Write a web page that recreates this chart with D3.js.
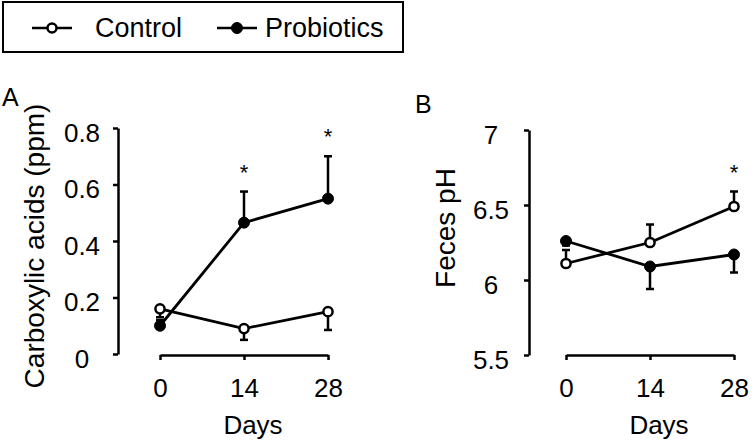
<!DOCTYPE html>
<html>
<head>
<meta charset="utf-8">
<script src="https://cdn.jsdelivr.net/npm/d3@7"></script>
<style>
  html, body { margin: 0; padding: 0; background: #fff; }
  svg { display: block; font-family: "Liberation Sans", Arial, Helvetica, sans-serif; }
</style>
</head>
<body>
<svg id="chart" width="756" height="441"></svg>
<script>
// ---- Data ----
const days = [0, 14, 28];
const seriesNames = ["Control", "Probiotics"];

// Panel A: Carboxylic acids (ppm)
const acidControl = [0.16, 0.09, 0.15];
const acidControlErr = [0.03, 0.04, 0.065];     // drawn downward
const acidProbiotics = [0.10, 0.465, 0.55];
const acidProbioticsErr = [0.02, 0.11, 0.15];   // drawn upward
const acidTicks = [0, 0.2, 0.4, 0.6, 0.8];
const acidStars = [14, 28];

// Panel B: Feces pH
const phControl = [6.11, 6.25, 6.49];
const phControlErr = [0.09, 0.12, 0.10];        // drawn upward
const phProbiotics = [6.26, 6.09, 6.17];
const phProbioticsErr = [0.03, 0.15, 0.12];     // drawn downward
const phTicks = [5.5, 6, 6.5, 7];
const phStars = [28];

const svg = d3.select("#chart");
const FONT = 26;

// ---- Legend ----
const leg = svg.append("g");
leg.append("rect").attr("x", 3).attr("y", 2).attr("width", 400).attr("height", 50)
  .attr("fill", "none").attr("stroke", "#000").attr("stroke-width", 2);
const legItems = [
  {name: seriesNames[0], x0: 32, x1: 72, tx: 95, filled: false},
  {name: seriesNames[1], x0: 217, x1: 257, tx: 265, filled: true}
];
legItems.forEach(d => {
  leg.append("line").attr("x1", d.x0).attr("x2", d.x1).attr("y1", 28).attr("y2", 28)
    .attr("stroke", "#000").attr("stroke-width", 2.5);
  leg.append("circle").attr("cx", (d.x0 + d.x1) / 2).attr("cy", 28)
    .attr("r", d.filled ? 5.5 : 4.5)
    .attr("fill", d.filled ? "#000" : "#fff").attr("stroke", "#000").attr("stroke-width", d.filled ? 1 : 2.5);
  leg.append("text").attr("x", d.tx).attr("y", 37).attr("font-size", 27).text(d.name);
});

// ---- Panel drawing ----
function drawPanel(cfg) {
  const g = svg.append("g");
  const x = d3.scaleLinear().domain([0, 28]).range([cfg.xLeft, cfg.xRight]);
  const y = d3.scaleLinear().domain(cfg.yDomain).range([cfg.yBottom, cfg.yTop]);

  // y axis
  const ya = g.append("g").attr("transform", `translate(${cfg.yAxisX},0)`)
    .call(d3.axisLeft(y).tickValues(cfg.yTicks).tickSize(5).tickSizeOuter(0)
      .tickFormat(d => String(d)));
  ya.select(".domain").attr("stroke-width", 2.5);
  ya.selectAll(".tick line").attr("stroke-width", 2.5);
  ya.selectAll(".tick text").attr("font-size", FONT).attr("font-family", null)
    .attr("text-anchor", "middle").attr("x", -cfg.yLabelOffset).attr("y", 5).attr("dy", "0.32em")
    .attr("fill", "#000");

  // x axis
  const xa = g.append("g").attr("transform", `translate(0,${cfg.xAxisY})`)
    .call(d3.axisBottom(x).tickValues(days).tickSize(5).tickSizeOuter(0));
  xa.select(".domain").attr("stroke-width", 2.5);
  xa.selectAll(".tick line").attr("stroke-width", 2.5);
  xa.selectAll(".tick text").attr("font-size", FONT).attr("font-family", null)
    .attr("y", 42).attr("dy", null).attr("fill", "#000");
  g.selectAll(".domain, .tick line").attr("stroke", "#000");

  // axis titles
  g.append("text").attr("x", (cfg.xLeft + cfg.xRight) / 2 + 9).attr("y", 434)
    .attr("text-anchor", "middle").attr("font-size", FONT).text("Days");
  g.append("text")
    .attr("transform", `translate(${cfg.yTitleX},${cfg.yTitleY}) rotate(-90)`)
    .attr("text-anchor", "middle").attr("font-size", 28).text(cfg.yTitle);
  g.append("text").attr("x", cfg.letterX).attr("y", cfg.letterY)
    .attr("font-size", 25).text(cfg.letter);

  const line = d3.line().x((d, i) => x(days[i])).y(d => y(d));
  const capW = 4;

  function series(vals, errs, dir, filled) {
    // error bars
    vals.forEach((v, i) => {
      const e = v + dir * errs[i];
      g.append("line").attr("x1", x(days[i])).attr("x2", x(days[i]))
        .attr("y1", y(v)).attr("y2", y(e)).attr("stroke", "#000").attr("stroke-width", 2.5);
      g.append("line").attr("x1", x(days[i]) - capW).attr("x2", x(days[i]) + capW)
        .attr("y1", y(e)).attr("y2", y(e)).attr("stroke", "#000").attr("stroke-width", 2.5);
    });
    g.append("path").datum(vals).attr("d", line).attr("fill", "none")
      .attr("stroke", "#000").attr("stroke-width", 2.8);
    g.selectAll(null).data(vals).enter().append("circle")
      .attr("cx", (d, i) => x(days[i])).attr("cy", d => y(d))
      .attr("r", filled ? 5.5 : 4.6)
      .attr("fill", filled ? "#000" : "#fff").attr("stroke", "#000")
      .attr("stroke-width", filled ? 1 : 2.5);
  }
  series(cfg.ctrl, cfg.ctrlErr, cfg.ctrlDir, false);
  series(cfg.prob, cfg.probErr, cfg.probDir, true);

  // significance stars
  cfg.stars.forEach(s => {
    const i = days.indexOf(s);
    const top = Math.max(cfg.ctrl[i] + (cfg.ctrlDir > 0 ? cfg.ctrlErr[i] : 0),
                         cfg.prob[i] + (cfg.probDir > 0 ? cfg.probErr[i] : 0));
    g.append("text").attr("x", x(s)).attr("y", y(top) - 12)
      .attr("text-anchor", "middle").attr("font-size", 22).text("*");
  });
}

drawPanel({
  xLeft: 160, xRight: 328, yTop: 128, yBottom: 354, yAxisX: 118, xAxisY: 355,
  yDomain: [0, 0.8], yTicks: acidTicks, yLabelOffset: 36,
  yTitle: "Carboxylic acids (ppm)", yTitleX: 44, yTitleY: 246,
  letter: "A", letterX: 2, letterY: 106,
  ctrl: acidControl, ctrlErr: acidControlErr, ctrlDir: -1,
  prob: acidProbiotics, probErr: acidProbioticsErr, probDir: 1,
  stars: acidStars
});

drawPanel({
  xLeft: 566, xRight: 734, yTop: 130, yBottom: 355, yAxisX: 529, xAxisY: 355,
  yDomain: [5.5, 7], yTicks: phTicks, yLabelOffset: 38,
  yTitle: "Feces pH", yTitleX: 455, yTitleY: 228,
  letter: "B", letterX: 415, letterY: 113,
  ctrl: phControl, ctrlErr: phControlErr, ctrlDir: 1,
  prob: phProbiotics, probErr: phProbioticsErr, probDir: -1,
  stars: phStars
});
</script>
</body>
</html>
